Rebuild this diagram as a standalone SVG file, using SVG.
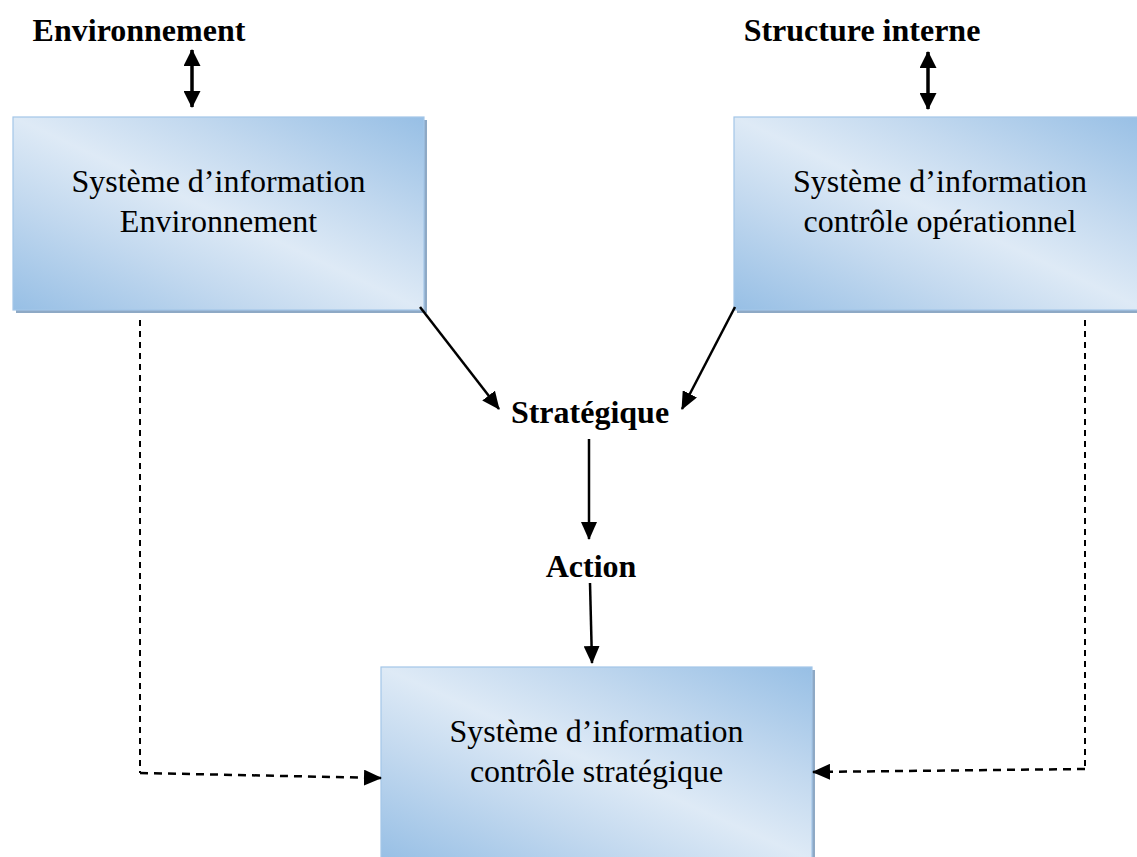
<svg xmlns="http://www.w3.org/2000/svg" width="1137" height="857" viewBox="0 0 1137 857">
  <style>
    .box { fill: url(#boxFill); stroke: #a3c6e8; stroke-width: 1.2; }
    .shadow { fill: #8ea9c5; }
    .label { font-family: "Liberation Serif", "Times New Roman", serif; font-size: 32px; fill: #000; text-anchor: middle; }
    .bold { font-weight: bold; }
    .solid { stroke: #000; stroke-width: 2.5; fill: none; }
    .thick { stroke: #000; stroke-width: 3.5; fill: none; }
    .dashV { stroke: #000; stroke-width: 2; fill: none; stroke-dasharray: 6 5; }
    .dashH { stroke: #000; stroke-width: 2.5; fill: none; stroke-dasharray: 8 6; }
  </style>
  <defs>
    <linearGradient id="boxFill" x1="1" y1="0" x2="0" y2="1">
      <stop offset="0" stop-color="#97bfe5"/>
      <stop offset="0.3" stop-color="#c3d9ef"/>
      <stop offset="0.5" stop-color="#deeaf6"/>
      <stop offset="0.7" stop-color="#c3d9ef"/>
      <stop offset="1" stop-color="#97bfe5"/>
    </linearGradient>
    <marker id="head" markerUnits="userSpaceOnUse" markerWidth="18" markerHeight="16" refX="17" refY="8" orient="auto">
      <path d="M0,0 L18,8 L0,16 z" fill="#000"/>
    </marker>
    <marker id="headStart" markerUnits="userSpaceOnUse" markerWidth="17" markerHeight="17" refX="1" refY="8.5" orient="auto">
      <path d="M17,0 L0,8.5 L17,17 z" fill="#000"/>
    </marker>
    <marker id="headEnd" markerUnits="userSpaceOnUse" markerWidth="17" markerHeight="17" refX="16" refY="8.5" orient="auto">
      <path d="M0,0 L17,8.5 L0,17 z" fill="#000"/>
    </marker>
  </defs>

  <!-- outside labels -->
  <g id="label-environnement">
    <text class="label bold" x="139" y="41">Environnement</text>
  </g>
  <g id="label-structure">
    <text class="label bold" x="862" y="41">Structure interne</text>
  </g>
  <g id="label-strategique">
    <text class="label bold" x="590" y="423">Stratégique</text>
  </g>
  <g id="label-action">
    <text class="label bold" x="591" y="577">Action</text>
  </g>

  <!-- information system boxes -->
  <g id="si-environnement">
    <rect class="shadow" x="16" y="120" width="411" height="193"/>
    <rect class="box" x="13" y="117" width="411" height="193"/>
    <text class="label" x="218.5" y="192">Système d’information</text>
    <text class="label" x="218.5" y="232">Environnement</text>
  </g>
  <g id="si-operationnel">
    <rect class="shadow" x="737" y="120" width="412" height="193"/>
    <rect class="box" x="734" y="117" width="412" height="193"/>
    <text class="label" x="940" y="192">Système d’information</text>
    <text class="label" x="940" y="232">contrôle opérationnel</text>
  </g>
  <g id="si-strategique">
    <rect class="shadow" x="384" y="670" width="431" height="193"/>
    <rect class="box" x="381" y="667" width="431" height="193"/>
    <text class="label" x="596.5" y="742">Système d’information</text>
    <text class="label" x="596.5" y="782">contrôle stratégique</text>
  </g>

  <!-- connectors -->
  <g id="connectors">
    <line class="thick" x1="192" y1="50" x2="192" y2="107" marker-start="url(#headStart)" marker-end="url(#headEnd)"/>
    <line class="thick" x1="928" y1="52" x2="928" y2="109" marker-start="url(#headStart)" marker-end="url(#headEnd)"/>
    <line class="solid" x1="420" y1="307" x2="499" y2="409" marker-end="url(#head)"/>
    <line class="solid" x1="735" y1="307" x2="682" y2="409" marker-end="url(#head)"/>
    <line class="solid" x1="589" y1="439" x2="589" y2="539" marker-end="url(#head)"/>
    <line class="solid" x1="590" y1="583" x2="592" y2="663" marker-end="url(#head)"/>
    <line class="dashV" x1="140" y1="320" x2="140" y2="773"/>
    <line class="dashH" x1="140" y1="773" x2="381" y2="778" marker-end="url(#head)"/>
    <line class="dashV" x1="1085" y1="320" x2="1085" y2="769"/>
    <line class="dashH" x1="1085" y1="769" x2="813" y2="772" marker-end="url(#head)"/>
  </g>
</svg>
